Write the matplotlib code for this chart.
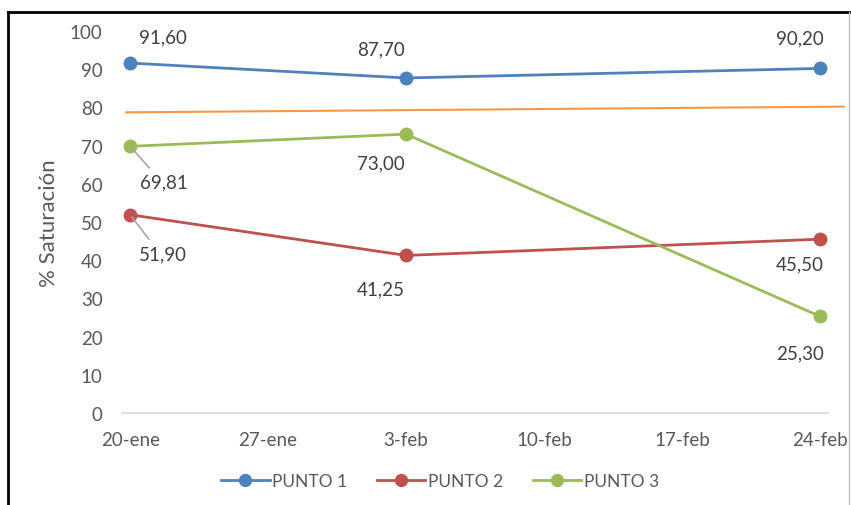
import matplotlib.pyplot as plt
from matplotlib.lines import Line2D

# days counted from 20-ene
days = [0, 14, 35]
punto1 = [91.60, 87.70, 90.20]
punto2 = [51.90, 41.25, 45.50]
punto3 = [69.81, 73.00, 25.30]

# reference line, drawn slightly past the first and last sample
ref_days = [-0.2, 36.2]
ref_values = [78.7, 80.2]

tick_days = [0, 7, 14, 21, 28, 35]
tick_labels = ["20-ene", "27-ene", "3-feb", "10-feb", "17-feb", "24-feb"]

# label offsets in pixels (dx, dy) for each point
offsets1 = [(33, 26), (-25, 29), (-20, 31)]
offsets2 = [(33, -39), (-25, -33), (-20, -25)]
offsets3 = [(34, -36), (-25, -29), (-20, -37)]
leaders2 = [True, False, False]
leaders3 = [True, False, False]

plt.rcParams["font.family"] = ["Lato", "DejaVu Sans"]
text_color = "#595959"

fig = plt.figure(figsize=(8.51, 5.06), dpi=100)
ax = fig.add_axes([0.1434, 0.1818, 0.8296, 0.755])

series = [
    ("PUNTO 1", punto1, "#4F81BD", offsets1, [False] * 3),
    ("PUNTO 2", punto2, "#C0504D", offsets2, leaders2),
    ("PUNTO 3", punto3, "#9BBB59", offsets3, leaders3),
]

handles = []
for name, vals, color, offs, leaders in series:
    h, = ax.plot(days, vals, color=color, lw=2.0, marker="o", ms=9,
                 label=name, zorder=3, clip_on=False)
    handles.append(h)
    for d, v, (dx, dy), lead in zip(days, vals, offs, leaders):
        label = f"{v:.2f}".replace(".", ",")
        kw = dict(xy=(d, v), xytext=(dx, dy), textcoords="offset pixels",
                  ha="center", va="center", fontsize=13.5, color="#404040")
        if lead:
            kw["arrowprops"] = dict(arrowstyle="-", color="#a6a6a6", lw=1.2,
                                    shrinkA=3, shrinkB=2, relpos=(0.3, 1.0))
        ax.annotate(label, **kw)

ax.plot(ref_days, ref_values, color="#F79646", lw=1.5, zorder=2, clip_on=False)

ax.set_xlim(-0.41, 35.41)
ax.set_ylim(0, 100)
ax.set_yticks(range(0, 101, 10))
ax.set_xticks(tick_days)
ax.set_xticklabels(tick_labels)
ax.tick_params(axis="both", length=0, labelsize=13.5, labelcolor=text_color)
ax.tick_params(axis="x", pad=13)
ax.tick_params(axis="y", pad=14)
for side in ["top", "right", "left"]:
    ax.spines[side].set_visible(False)
ax.spines["bottom"].set_color("#d9d9d9")
ax.spines["bottom"].set_linewidth(1.2)

ax.set_ylabel("% Saturación", fontsize=16, color=text_color, labelpad=8)

fig.legend(handles=handles, loc="center", bbox_to_anchor=(440 / 851, 1 - 482 / 506),
           ncol=3, frameon=False, fontsize=12.5, labelcolor=text_color,
           handlelength=2.8, handletextpad=0.15, columnspacing=1.7, markerscale=0.95)

# chart border
fig.add_artist(Line2D([8 / 851, 8 / 851], [0, 1 - 13 / 506], color="black", lw=2))
fig.add_artist(Line2D([8 / 851, 849 / 851], [1 - 13 / 506, 1 - 13 / 506], color="black", lw=2))
fig.add_artist(Line2D([849 / 851, 849 / 851], [0, 1 - 13 / 506], color="#bfbfbf", lw=1))

fig.savefig("out.png", dpi=100, facecolor="white")
